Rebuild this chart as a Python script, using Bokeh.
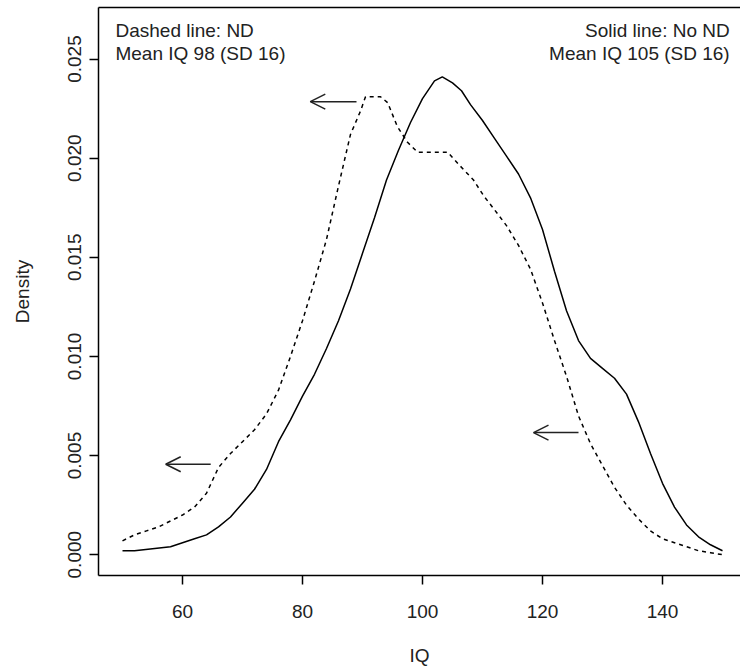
from bokeh.plotting import figure
from bokeh.models import (Range1d, FixedTicker, PrintfTickFormatter, Label, Arrow,
                          OpenHead, LinearAxis)
from bokeh.embed import file_html
from bokeh.resources import INLINE

# ---- data ----
iq_solid = [50, 52, 55, 58, 60, 62, 64, 66, 68, 70, 72, 74, 76, 78, 80, 82, 84, 86, 88, 90,
            92, 94, 96, 98, 100, 102, 103.3, 105, 106.5, 108, 110, 112, 114, 116, 118, 120,
            122, 124, 126, 128, 130, 132, 134, 136, 138, 140, 142, 144, 146, 148, 150]
dens_solid = [0.0002, 0.0002, 0.0003, 0.0004, 0.0006, 0.0008, 0.0010, 0.0014, 0.0019, 0.0026,
              0.0033, 0.0043, 0.0057, 0.0068, 0.0080, 0.0091, 0.0104, 0.0118, 0.0134, 0.0152,
              0.0170, 0.0189, 0.0204, 0.0218, 0.0230, 0.0239, 0.0241, 0.0238, 0.0234, 0.0227,
              0.0219, 0.0210, 0.0201, 0.0192, 0.0180, 0.0164, 0.0143, 0.0123, 0.0108, 0.0099,
              0.0094, 0.0089, 0.0081, 0.0067, 0.0051, 0.0036, 0.0024, 0.0015, 0.0009, 0.0005,
              0.0002]

iq_dashed = [50, 52, 54, 56, 58, 60, 62, 64, 66, 68, 70, 72, 74, 76, 78, 80, 82, 84, 86, 88,
             89.7, 90.5, 93, 94.2, 95.8, 97.5, 99.2, 104.2, 106.3, 108.5, 110.2, 112, 114, 116,
             118, 120, 122, 124, 126, 128, 130, 132, 134, 136, 138, 140, 142, 144, 146, 148, 150]
dens_dashed = [0.0007, 0.0010, 0.0012, 0.0014, 0.0017, 0.0020, 0.0024, 0.0031, 0.0044, 0.0051,
               0.0057, 0.0063, 0.0071, 0.0083, 0.0100, 0.0118, 0.0138, 0.0159, 0.0186, 0.0212,
               0.0224, 0.0231, 0.0231, 0.0228, 0.0216, 0.0208, 0.0203, 0.0203, 0.0196, 0.0189,
               0.0181, 0.0174, 0.0166, 0.0156, 0.0144, 0.0127, 0.0108, 0.0090, 0.0070, 0.0056,
               0.0045, 0.0034, 0.0025, 0.0018, 0.0012, 0.0008, 0.0006, 0.0004, 0.0002, 0.0001,
               0.0000]

# arrows (start -> end, pointing left)
arrow_x_start = [89.0, 64.7, 126.0]
arrow_x_end = [81.3, 57.2, 118.5]
arrow_y = [0.02285, 0.00456, 0.00616]

x_ticks = [60, 80, 100, 120, 140]
y_ticks = [0.000, 0.005, 0.010, 0.015, 0.020, 0.025]

left_lines = ["Dashed line: ND", "Mean IQ 98 (SD 16)"]
right_lines = ["Solid line: No ND", "Mean IQ 105 (SD 16)"]
line_y = [0.02645, 0.0253]

X_START, X_END = 46, 153.0
Y_START, Y_END = -0.00105, 0.0276

FONT = "Liberation Sans"
FS = "19px"
INK = "#222222"

p = figure(width=740, height=668, output_backend="svg", toolbar_location=None,
           x_range=Range1d(X_START, X_END), y_range=Range1d(Y_START, Y_END),
           min_border_left=98, min_border_right=0, min_border_top=7, min_border_bottom=89,
           background_fill_color="white", border_fill_color="white")
p.grid.visible = False
p.outline_line_color = None

p.line(iq_solid, dens_solid, line_color="black", line_width=1.5)
p.line(iq_dashed, dens_dashed, line_color="black", line_width=1.5, line_dash="4 4")

for xs, xe, yy in zip(arrow_x_start, arrow_x_end, arrow_y):
    p.add_layout(Arrow(end=OpenHead(size=15, line_width=1.5, line_color=INK),
                       x_start=xs, y_start=yy, x_end=xe, y_end=yy,
                       line_width=1.5, line_color=INK))

# axes
xa = p.xaxis[0]
xa.ticker = FixedTicker(ticks=x_ticks)
xa.axis_label = "IQ"
ya = p.yaxis[0]
ya.ticker = FixedTicker(ticks=y_ticks)
ya.formatter = PrintfTickFormatter(format="%.3f")
ya.axis_label = "Density"
ya.major_label_orientation = "vertical"

for ax in (xa, ya):
    ax.axis_line_color = "black"
    ax.axis_line_width = 1.5
    ax.major_tick_line_color = "black"
    ax.major_tick_line_width = 1.5
    ax.major_tick_in = 0
    ax.major_tick_out = 9
    ax.minor_tick_line_color = None
    ax.major_label_text_font = FONT
    ax.major_label_text_font_size = FS
    ax.major_label_text_color = INK
    ax.axis_label_text_font = FONT
    ax.axis_label_text_font_size = FS
    ax.axis_label_text_font_style = "normal"
    ax.axis_label_text_color = INK

xa.major_label_standoff = 20
xa.axis_label_standoff = 24
ya.major_label_standoff = 8
ya.axis_label_standoff = 33

top = LinearAxis(ticker=FixedTicker(ticks=[]), major_tick_line_color=None,
                 minor_tick_line_color=None, major_label_standoff=0,
                 major_tick_out=0, major_tick_in=0,
                 axis_line_color="black", axis_line_width=1.5)
p.add_layout(top, "above")

# annotation texts
for t, yy in zip(left_lines, line_y):
    p.add_layout(Label(x=48.83, y=yy, text=t, text_font=FONT, text_font_size=FS,
                       text_baseline="middle", text_align="left", text_color=INK))
for t, yy in zip(right_lines, line_y):
    p.add_layout(Label(x=151.2, y=yy, text=t, text_font=FONT, text_font_size=FS,
                       text_baseline="middle", text_align="right", text_color=INK))

open("out.html", "w").write(file_html(p, INLINE))
